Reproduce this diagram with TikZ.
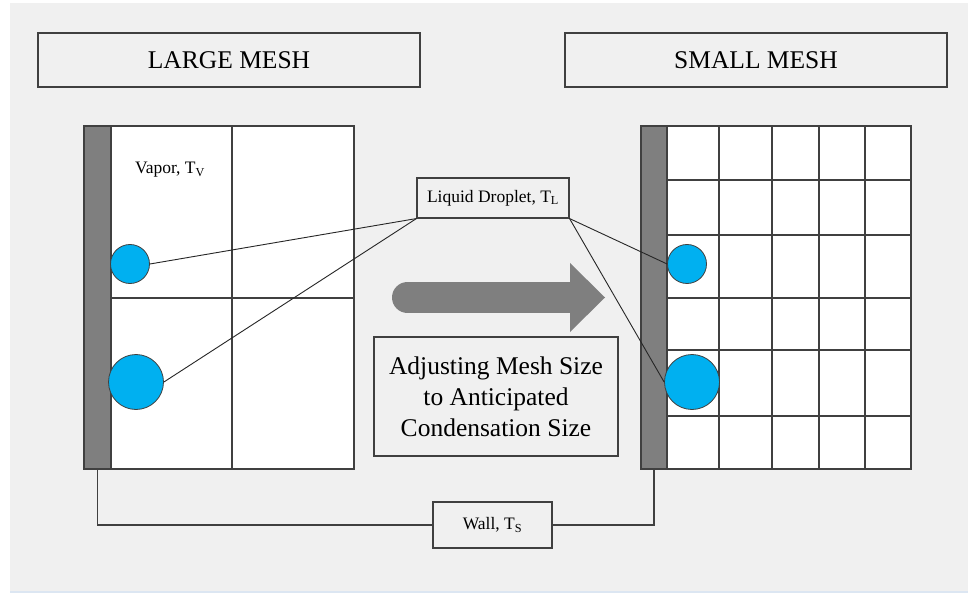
\documentclass[tikz,border=0pt]{standalone}
\usepackage{fontspec}
\setmainfont{LiberationSerif}[Extension=.ttf,UprightFont=*-Regular,BoldFont=*-Bold]
\definecolor{bg}{HTML}{F0F0F0}
\definecolor{edge}{HTML}{404040}
\definecolor{wallgray}{HTML}{7F7F7F}
\definecolor{drop}{HTML}{00B0F0}
\definecolor{bottomrule}{HTML}{DCE6F2}
\begin{document}
\begin{tikzpicture}[x=1pt,y=-1pt,
  every node/.style={font=\rmfamily},
  titlebox/.style={draw=edge,line width=1.2pt,minimum width=382pt,minimum height=54pt,inner sep=0pt,
    font=\rmfamily\fontsize{25.5}{30}\selectfont},
  labelbox/.style={draw=edge,line width=1.1pt,inner sep=0pt,font=\rmfamily\fontsize{17.5}{21}\selectfont},
  meshframe/.style={draw=edge,line width=1.2pt,fill=white},
  meshline/.style={draw=edge,line width=1.1pt},
  wallbar/.style={draw=edge,line width=1.1pt,fill=wallgray,minimum width=27pt,minimum height=343pt,inner sep=0pt},
  droplet/.style={circle,draw=edge,line width=0.8pt,fill=drop,inner sep=0pt},
  link/.style={draw=black!85,line width=0.9pt},
]
\useasboundingbox (0,0) rectangle (968,593);
\fill[white] (0,0) rectangle (968,593);
\fill[bg] (10,3) rectangle (968,591);
\fill[bottomrule] (10,591) rectangle (968,593);

% headings
\node[titlebox] (large) at (229,60) {LARGE MESH};
\node[titlebox] (small) at (756,60) {SMALL MESH};

% coarse mesh
\draw[meshframe] (84,126) rectangle (354,469);
\draw[meshline] (232,126) -- (232,469);
\draw[meshline] (111,298) -- (354,298);
\node[wallbar] (lwall) at (97.5,297.5) {};

% fine mesh
\draw[meshframe] (641,126) rectangle (911,469);
\foreach \gx in {719,772,819,865} \draw[meshline] (\gx,126) -- (\gx,469);
\foreach \gy in {180,235,298,350,416} \draw[meshline] (667,\gy) -- (911,\gy);
\node[wallbar,minimum width=26pt] (rwall) at (654,297.5) {};

% droplets on the walls
\node[droplet,minimum size=39pt] (ld1) at (130,264) {};
\node[droplet,minimum size=55pt] (ld2) at (136,382) {};
\node[droplet,minimum size=39pt] (rd1) at (687,264) {};
\node[droplet,minimum size=55pt] (rd2) at (692,382) {};

\node[font=\rmfamily\fontsize{17.5}{21}\selectfont] (vapor) at (170,170) {Vapor, T\textsubscript{V}};

% droplet label and its leaders
\node[labelbox,minimum width=152pt,minimum height=40pt] (liq) at (493,198) {Liquid Droplet, T\textsubscript{L}};
\draw[link] (liq.south west) -- (ld1.east);
\draw[link] (liq.south west) -- (ld2.east);
\draw[link] (liq.south east) -- (rd1.west);
\draw[link] (liq.south east) -- (rd2.west);

% refinement arrow
\draw[wallgray,line width=31pt,line cap=round] (407.5,297.5) -- (574,297.5);
\fill[wallgray] (570,263) -- (605,297.5) -- (570,332) -- cycle;

\node[labelbox,minimum width=244pt,minimum height=119pt,align=center,
  font=\rmfamily\fontsize{25.5}{31}\selectfont] (adjust) at (496,396.5)
  {Adjusting Mesh Size\\to Anticipated\\Condensation Size};

% wall label
\node[labelbox,minimum width=119pt,minimum height=46pt] (wall) at (492.5,525) {Wall, T\textsubscript{S}};
\draw[link,draw=edge,line width=1.1pt] (lwall.south) |- (wall.west);
\draw[link,draw=edge,line width=1.1pt] (rwall.south) |- (wall.east);
\end{tikzpicture}
\end{document}
